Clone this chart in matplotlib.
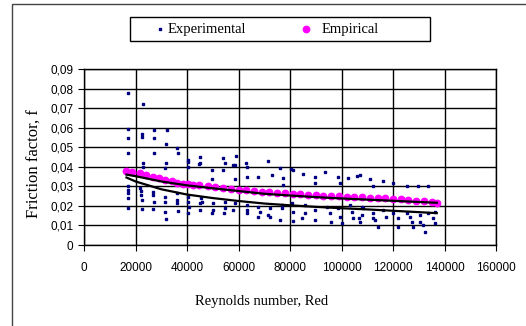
import matplotlib
matplotlib.use("Agg")
import matplotlib.pyplot as plt
from matplotlib.ticker import FuncFormatter, MultipleLocator
from matplotlib.patches import Rectangle
from matplotlib.lines import Line2D

# experimental points (Re, f), read column by column
exp_re = [17000, 17000, 17000, 17000, 17000, 17000, 17000, 17000, 17000,
          22800, 22500, 22500, 22800, 22800, 21700, 22000, 22300, 22600, 22500,
          27300, 27300, 27300, 26900, 26900, 27000, 26900,
          32100, 31700, 31700, 31500, 31500, 31500, 31400, 32000,
          36200, 36600, 36200, 36200, 36200, 36400,
          40500, 40500, 40500, 40500, 40500, 40800, 40500,
          45000, 45000, 44800, 45700, 45000, 45000, 45500,
          49600, 49600, 50200, 50200, 49600,
          53900, 54800, 54100, 54800, 54800, 54400,
          59000, 58600, 58000, 58600, 58600, 58000,
          62800, 63200, 63200, 63200, 63200, 63400,
          67700, 67700, 68300, 67700,
          71600, 72900, 72200, 71600, 72200,
          76100, 77400, 77200, 76800, 76800, 76100,
          80500, 81000, 80700, 81000, 81300,
          85000, 85800, 85800, 84500,
          89700, 89700, 89700, 89700,
          93500, 94200, 95500, 96100,
          98800, 99400, 98800, 99400, 100000,
          102600, 103300, 104000, 104500,
          107200, 106200, 107800, 108500, 107800, 107200, 106900,
          111000, 112300, 112300, 112300, 114000, 113200,
          116000, 116200, 117400,
          120100, 120100, 121900, 121900,
          125300, 125300, 126600, 127200, 127800,
          129800, 130500, 130500, 131600, 132400,
          133700, 133700, 135600, 136200, 136200]
exp_f = [0.0776, 0.0593, 0.0546, 0.0472, 0.0302, 0.0281, 0.0265, 0.0239, 0.0188,
         0.0719, 0.0566, 0.0554, 0.0421, 0.0400, 0.0290, 0.0276, 0.0256, 0.0230, 0.0183,
         0.0588, 0.0546, 0.0472, 0.0273, 0.0256, 0.0221, 0.0183,
         0.0588, 0.0515, 0.0421, 0.0392, 0.0247, 0.0221, 0.0170, 0.0131,
         0.0498, 0.0469, 0.0264, 0.0230, 0.0213, 0.0176,
         0.0435, 0.0426, 0.0400, 0.0247, 0.0221, 0.0196, 0.0162,
         0.0452, 0.0421, 0.0414, 0.0221, 0.0213, 0.0179, 0.0239,
         0.0384, 0.0336, 0.0213, 0.0179, 0.0162,
         0.0443, 0.0421, 0.0384, 0.0221, 0.0188, 0.0162,
         0.0457, 0.0410, 0.0409, 0.0336, 0.0213, 0.0179,
         0.0421, 0.0400, 0.0350, 0.0205, 0.0179, 0.0162,
         0.0350, 0.0196, 0.0170, 0.0145,
         0.0430, 0.0358, 0.0188, 0.0153, 0.0145,
         0.0392, 0.0341, 0.0307, 0.0205, 0.0188, 0.0128,
         0.0389, 0.0384, 0.0213, 0.0170, 0.0124,
         0.0363, 0.0205, 0.0165, 0.0136,
         0.0350, 0.0319, 0.0179, 0.0128,
         0.0372, 0.0196, 0.0162, 0.0120,
         0.0350, 0.0319, 0.0188, 0.0145, 0.0114,
         0.0341, 0.0205, 0.0170, 0.0136,
         0.0358, 0.0353, 0.0196, 0.0188, 0.0153, 0.0120, 0.0136,
         0.0336, 0.0302, 0.0162, 0.0136, 0.0094, 0.0128,
         0.0329, 0.0179, 0.0145,
         0.0319, 0.0162, 0.0136, 0.0094,
         0.0302, 0.0162, 0.0145, 0.0120, 0.0094,
         0.0302, 0.0153, 0.0120, 0.0102, 0.0068,
         0.0302, 0.0162, 0.0136, 0.0111, 0.0170]

# empirical correlation points
emp_re = [16300, 18500, 21800, 24000, 26900, 29000, 31500, 34000, 36200, 38500,
          40500, 42500, 44800, 48000, 51000, 54000, 57000, 60000, 63000, 66000,
          69000, 72000, 75000, 78000, 81000, 84000, 87000, 90000, 93000, 96000,
          99000, 102000, 105000, 108000, 111000, 114000, 117000, 120000, 123000,
          126000, 129000, 132000, 135000, 137000]
emp_f = [0.0377, 0.0372, 0.0366, 0.0358, 0.0350, 0.0342, 0.0334, 0.0325, 0.0318, 0.0314,
         0.0311, 0.0308, 0.0305, 0.0300, 0.0295, 0.0290, 0.0286, 0.0282, 0.0279, 0.0276,
         0.0273, 0.0270, 0.0267, 0.0264, 0.0261, 0.0259, 0.0257, 0.0255, 0.0253, 0.0251,
         0.0249, 0.0247, 0.0245, 0.0244, 0.0242, 0.0240, 0.0238, 0.0236, 0.0233,
         0.0230, 0.0227, 0.0224, 0.0220, 0.0216]

# trend lines
trend_re = [16500, 20000, 30000, 40000, 50000, 60000, 70000, 80000, 90000,
            100000, 110000, 120000, 130000, 137000]
trend_emp = [0.0360, 0.0352, 0.0325, 0.0305, 0.0290, 0.0276, 0.0262, 0.0253, 0.0245,
             0.0238, 0.0232, 0.0226, 0.0220, 0.0216]
trend_exp = [0.0345, 0.0325, 0.0285, 0.0258, 0.0240, 0.0225, 0.0212, 0.0203, 0.0195,
             0.0188, 0.0182, 0.0175, 0.0168, 0.0163]

W, H = 526, 326
fig = plt.figure(figsize=(W / 100, H / 100), dpi=100)
ax = fig.add_axes([84 / W, 81 / H, 412 / W, 176 / H])

ax.plot(exp_re, exp_f, linestyle='none', marker='s', markersize=1.8,
        color='#000080', zorder=3)
ax.plot(emp_re, emp_f, linestyle='none', marker='o', markersize=4.6,
        color='#FF00FF', zorder=4)
ax.plot(trend_re, trend_emp, color='black', linewidth=1.6, zorder=5)
ax.plot(trend_re, trend_exp, color='black', linewidth=1.6, zorder=5)

ax.set_xlim(0, 160000)
ax.set_ylim(0, 0.09)
ax.xaxis.set_major_locator(MultipleLocator(20000))
ax.yaxis.set_major_locator(MultipleLocator(0.01))
ax.yaxis.set_major_formatter(FuncFormatter(
    lambda v, p: '0' if abs(v) < 1e-9 else f'{v:.2f}'.replace('.', ',')))
ax.grid(True, color='black', linewidth=1.0)
ax.set_axisbelow(True)
for s in ax.spines.values():
    s.set_color('black')
    s.set_linewidth(1.0)

ax.tick_params(axis='both', labelsize=8.5, length=4, color='black')
ax.tick_params(axis='x', pad=8)
for lab in ax.get_xticklabels() + ax.get_yticklabels():
    lab.set_fontfamily('Liberation Sans')

ax.set_xlabel('Reynolds number, Red', fontsize=10.5, family='Liberation Serif')
ax.xaxis.set_label_coords(0.432, -0.285)
ax.set_ylabel('Friction factor, f', fontsize=12, family='Liberation Serif')
ax.yaxis.set_label_coords(-0.1, 0.46)

# legend box drawn by hand to match the original spacing
fig.patches.append(Rectangle((130 / W, (H - 41) / H), 300 / W, 24 / H,
                             transform=fig.transFigure, fill=False,
                             edgecolor='black', linewidth=1.0))
ly = (H - 29) / H
fig.add_artist(Line2D([160 / W], [ly], transform=fig.transFigure, marker='s',
                      markersize=1.8, color='#000080', linestyle='none'))
fig.text(168 / W, ly, 'Experimental', family='Liberation Serif', fontsize=10.5,
         va='center', ha='left')
fig.add_artist(Line2D([306 / W], [ly], transform=fig.transFigure, marker='o',
                      markersize=4.6, color='#FF00FF', linestyle='none'))
fig.text(322 / W, ly, 'Empirical', family='Liberation Serif', fontsize=10.5,
         va='center', ha='left')

# outer chart border (only left and top edges are inside the picture)
fig.patches.append(Rectangle((12 / W, -0.05), 1.1, (H - 4) / H + 0.05,
                             transform=fig.transFigure, fill=False,
                             edgecolor='#444444', linewidth=1.0))

fig.savefig('out.png', dpi=100)
